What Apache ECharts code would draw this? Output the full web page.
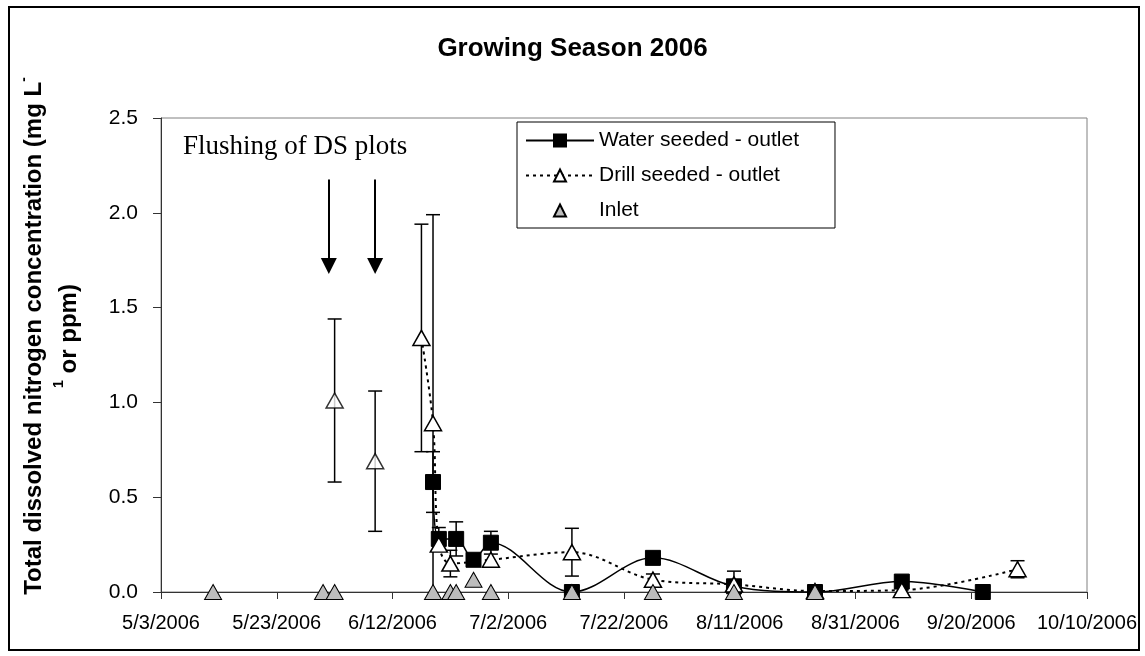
<!DOCTYPE html>
<html>
<head>
<meta charset="utf-8">
<title>Growing Season 2006</title>
<script src="https://cdn.jsdelivr.net/npm/echarts/dist/echarts.min.js"></script>
<style>
  html, body { margin: 0; padding: 0; background: #fff; }
  #chart { width: 1145px; height: 656px; }
</style>
</head>
<body>
<div id="chart"></div>
<script>
// x axis: days counted from 5/3/2006, one tick every 20 days
const xStart = '2006-05-03'
const xTickLabels = ['5/3/2006', '5/23/2006', '6/12/2006', '7/2/2006', '7/22/2006', '8/11/2006', '8/31/2006', '9/20/2006', '10/10/2006']
const xTickStep = 20
const yTicks = [0, 0.5, 1.0, 1.5, 2.0, 2.5]

// Water seeded - outlet
const wsDates = ['2006-06-19', '2006-06-20', '2006-06-23', '2006-06-26', '2006-06-29', '2006-07-13', '2006-07-27', '2006-08-10', '2006-08-24', '2006-09-08', '2006-09-22']
const wsValues = [0.58, 0.28, 0.28, 0.17, 0.26, 0.0, 0.18, 0.03, 0.0, 0.055, 0.0]
const wsErrors = [0.16, 0.06, 0.09, 0, 0.06, 0, 0, 0, 0, 0, 0]

// Drill seeded - outlet (connected part)
const dsDates = ['2006-06-17', '2006-06-19', '2006-06-20', '2006-06-22', '2006-06-29', '2006-07-13', '2006-07-27', '2006-08-10', '2006-08-24', '2006-09-08', '2006-09-28']
const dsValues = [1.34, 0.89, 0.25, 0.15, 0.17, 0.21, 0.065, 0.04, 0.005, 0.01, 0.12]
const dsErrors = [0.6, 1.1, 0, 0.07, 0, 0.126, 0.03, 0.07, 0, 0, 0.045]

// Drill seeded - flushing samples (no line)
const flushDates = ['2006-06-02', '2006-06-09']
const flushValues = [1.01, 0.69]
const flushErrors = [0.43, 0.37]

// Inlet
const inletDates = ['2006-05-12', '2006-05-31', '2006-06-02', '2006-06-19', '2006-06-22', '2006-06-23', '2006-06-26', '2006-06-29', '2006-07-13', '2006-07-27', '2006-08-10', '2006-08-24']
const inletValues = [0, 0, 0, 0, 0, 0, 0.065, 0, 0, 0, 0, 0]

// flushing arrows: date, top value, arrow head value
const arrowDates = ['2006-06-01', '2006-06-09']
const arrowTop = 2.175
const arrowHead = 1.72

const FONT = '"Liberation Sans", Arial, sans-serif'
const SERIF = '"Liberation Serif", "Times New Roman", serif'

const dayMs = 86400000
const parseUTC = (s) => {
  const [y, m, d] = s.split('-').map(Number)
  return Date.UTC(y, m - 1, d)
}
const day0 = parseUTC(xStart)
const toDay = (s) => (parseUTC(s) - day0) / dayMs

const points = (dates, values) => dates.map((d, i) => [toDay(d), values[i]])
const errBars = (dates, values, errs) =>
  dates
    .map((d, i) => [toDay(d), values[i] - errs[i], values[i] + errs[i]])
    .filter((_, i) => errs[i] > 0)

// vertical error bar with caps
const renderErrorBar = (params, api) => {
  const x = api.value(0)
  const low = api.value(1)
  const lo = api.coord([x, Math.max(low, 0)])
  const hi = api.coord([x, api.value(2)])
  const half = 7
  const style = { stroke: '#000', lineWidth: 1.5, fill: null }
  const children = [
    { type: 'line', shape: { x1: lo[0], y1: lo[1], x2: hi[0], y2: hi[1] }, style },
    { type: 'line', shape: { x1: hi[0] - half, y1: hi[1], x2: hi[0] + half, y2: hi[1] }, style },
  ]
  if (low >= 0) {
    children.push({ type: 'line', shape: { x1: lo[0] - half, y1: lo[1], x2: lo[0] + half, y2: lo[1] }, style })
  }
  return { type: 'group', children }
}

const chart = echarts.init(document.getElementById('chart'))

const squareStyle = { color: '#000', borderColor: '#000', borderWidth: 1 }
const openTriStyle = { color: '#fff', borderColor: '#000', borderWidth: 1.5 }
const grayTriStyle = { color: '#bdbdbd', borderColor: '#000', borderWidth: 1 }

const option = {
  animation: false,
  backgroundColor: '#fff',
  title: {
    text: 'Growing Season 2006',
    left: 'center',
    top: 31,
    textStyle: { fontFamily: FONT, fontSize: 26, fontWeight: 'bold', color: '#000' },
  },
  grid: {
    left: 161,
    right: 58,
    top: 118,
    bottom: 64,
    show: true,
    borderColor: '#808080',
    borderWidth: 1,
    backgroundColor: 'transparent',
  },
  legend: {
    data: ['Water seeded - outlet', 'Drill seeded - outlet', 'Inlet'],
    orient: 'vertical',
    left: 517,
    top: 122,
    padding: [8, 36, 7, 8],
    itemWidth: 68,
    itemHeight: 15,
    itemGap: 14,
    borderColor: '#000',
    borderWidth: 1,
    backgroundColor: '#fff',
    textStyle: { fontFamily: FONT, fontSize: 21, color: '#000' },
  },
  xAxis: {
    type: 'value',
    min: 0,
    max: (xTickLabels.length - 1) * xTickStep,
    interval: xTickStep,
    splitLine: { show: false },
    axisLine: { show: true, onZero: false, lineStyle: { color: '#333', width: 1 } },
    axisTick: { show: true, inside: false, length: 7, lineStyle: { color: '#333' } },
    axisLabel: {
      margin: 21,
      fontFamily: FONT,
      fontSize: 20,
      color: '#000',
      formatter: (v) => xTickLabels[Math.round(v / xTickStep)] || '',
    },
  },
  yAxis: {
    type: 'value',
    min: yTicks[0],
    max: yTicks[yTicks.length - 1],
    interval: yTicks[1] - yTicks[0],
    splitLine: { show: false },
    axisLine: { show: true, lineStyle: { color: '#333', width: 1 } },
    axisTick: { show: true, inside: false, length: 8, lineStyle: { color: '#333' } },
    axisLabel: {
      margin: 23,
      fontFamily: FONT,
      fontSize: 21,
      color: '#000',
      formatter: (v) => v.toFixed(1),
    },
  },
  graphic: [
    {
      type: 'rect',
      shape: { x: 9, y: 7, width: 1130, height: 643 },
      style: { fill: null, stroke: '#000', lineWidth: 2 },
      silent: true,
      z: -10,
    },
    {
      type: 'text',
      x: 52,
      y: 336,
      rotation: Math.PI / 2,
      style: {
        text: '{m|Total dissolved nitrogen concentration (mg L}{s|-}\n{s|1}{m| or ppm)}',
        align: 'center',
        verticalAlign: 'middle',
        textAlign: 'center',
        textVerticalAlign: 'middle',
        rich: {
          m: { fontFamily: FONT, fontSize: 24, fontWeight: 'bold', color: '#000', lineHeight: 35 },
          s: { fontFamily: FONT, fontSize: 14, fontWeight: 'bold', color: '#000', lineHeight: 35, verticalAlign: 'top' },
        },
      },
    },
    {
      type: 'text',
      x: 183,
      y: 147,
      style: {
        text: 'Flushing of DS plots',
        fontFamily: SERIF,
        fontSize: 27,
        fill: '#000',
        align: 'left',
        verticalAlign: 'middle',
        textAlign: 'left',
        textVerticalAlign: 'middle',
      },
    },
  ],
  series: [
    {
      name: 'ws-err',
      type: 'custom',
      renderItem: renderErrorBar,
      data: errBars(wsDates, wsValues, wsErrors),
      z: 1,
      silent: true,
    },
    {
      name: 'ds-err',
      type: 'custom',
      renderItem: renderErrorBar,
      data: errBars(dsDates, dsValues, dsErrors).concat(errBars(flushDates, flushValues, flushErrors)),
      z: 1,
      silent: true,
    },
    {
      name: 'Water seeded - outlet',
      type: 'line',
      data: points(wsDates, wsValues),
      smooth: 0.35,
      symbol: 'rect',
      symbolSize: 15,
      showAllSymbol: true,
      clip: false,
      lineStyle: { color: '#000', width: 1.5, type: 'solid' },
      itemStyle: squareStyle,
      z: 2,
    },
    {
      name: 'Drill seeded - outlet',
      type: 'line',
      data: points(dsDates, dsValues),
      smooth: 0.35,
      symbol: 'triangle',
      symbolSize: [17, 15],
      showAllSymbol: true,
      clip: false,
      lineStyle: { color: '#000', width: 2, type: [3, 4] },
      itemStyle: openTriStyle,
      z: 3,
    },
    {
      name: 'Drill seeded - flushing',
      type: 'scatter',
      data: points(flushDates, flushValues),
      symbol: 'triangle',
      symbolSize: [17, 15],
      clip: false,
      itemStyle: openTriStyle,
      z: 3,
      markLine: {
        silent: true,
        symbol: ['none', 'triangle'],
        symbolSize: [16, 16],
        label: { show: false },
        lineStyle: { color: '#000', width: 2, type: 'solid' },
        data: arrowDates.map((d) => [
          { coord: [toDay(d), arrowTop] },
          { coord: [toDay(d), arrowHead] },
        ]),
      },
    },
    {
      // drawn as a line series with a hidden line so the legend shows only the marker
      name: 'Inlet',
      type: 'line',
      data: points(inletDates, inletValues),
      symbol: 'triangle',
      symbolSize: [17, 15],
      showAllSymbol: true,
      clip: false,
      lineStyle: { width: 0, opacity: 0 },
      itemStyle: grayTriStyle,
      z: 4,
    },
  ],
}

chart.setOption(option)
</script>
</body>
</html>
